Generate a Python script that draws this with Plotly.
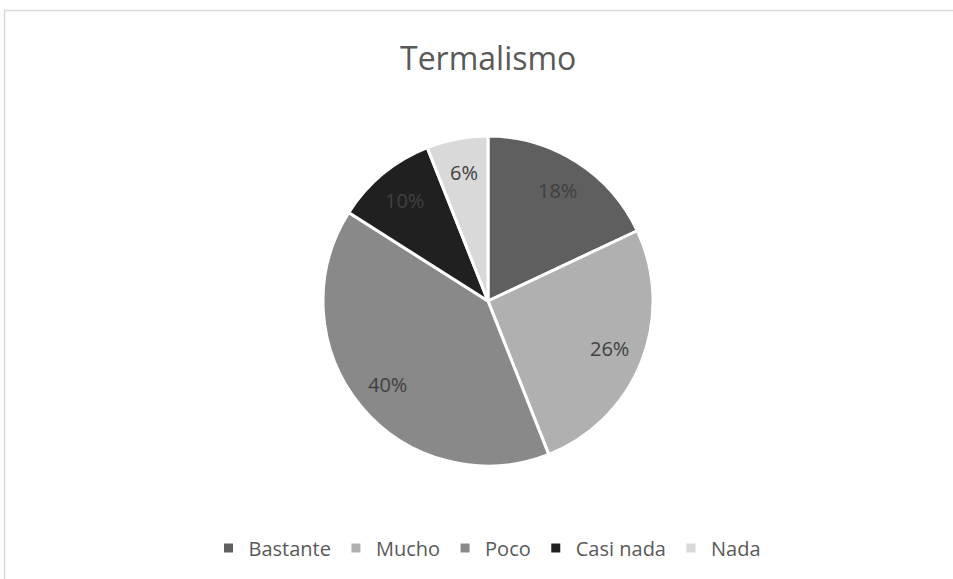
import math
import plotly.graph_objects as go

categories = ["Bastante", "Mucho", "Poco", "Casi nada", "Nada"]
values = [18, 26, 40, 10, 6]
colors = ["#5f5f5f", "#b0b0b0", "#898989", "#202020", "#d9d9d9"]

W, H = 953, 579
CX, CY, R = 488, 301, 165  # pie centre / radius in pixels
LABEL_R = 0.79

fig = go.Figure(go.Pie(
    labels=categories,
    values=values,
    sort=False,
    direction="clockwise",
    rotation=0,
    marker=dict(colors=colors, line=dict(color="white", width=3)),
    textinfo="none",
    hoverinfo="label+percent",
    domain=dict(x=[(CX - R) / W, (CX + R) / W], y=[(H - CY - R) / H, (H - CY + R) / H]),
))

# percentage labels placed along each slice's bisector
total = sum(values)
annotations = []
cum = 0
for v in values:
    mid = (cum + v / 2) / total
    ang = math.radians(90 - 360 * mid)
    px = CX + LABEL_R * R * math.cos(ang)
    py = CY - LABEL_R * R * math.sin(ang)
    annotations.append(dict(
        text=f"{round(100 * v / total)}%", x=px / W, y=1 - py / H,
        xref="paper", yref="paper", xanchor="center", yanchor="middle",
        showarrow=False,
        font=dict(family="Open Sans, Noto Sans, sans-serif", size=20, color="#404040"),
    ))
    cum += v

annotations.append(dict(
    text="Termalismo", x=488 / W, y=1 - 57 / H, xref="paper", yref="paper",
    xanchor="center", yanchor="middle", showarrow=False,
    font=dict(family="Open Sans, Noto Sans, sans-serif", size=32, color="#595959"),
))

fig.update_layout(
    width=W, height=H,
    margin=dict(l=0, r=0, t=0, b=0),
    paper_bgcolor="white",
    plot_bgcolor="white",
    showlegend=True,
    legend=dict(
        orientation="h",
        x=0.5 + 11 / W, xanchor="center",
        y=1 - 548 / H, yanchor="middle",
        font=dict(family="Open Sans, Noto Sans, sans-serif", size=20, color="#595959"),
        itemwidth=30,
        traceorder="normal",
    ),
    annotations=annotations,
    shapes=[dict(
        type="rect", xref="paper", yref="paper",
        x0=4.5 / W, x1=1.01, y0=-0.01, y1=1 - 10.5 / H,
        line=dict(color="#d9d9d9", width=1.5), fillcolor="rgba(0,0,0,0)",
        layer="below",
    )],
)

fig.write_html("out.html", config={"displayModeBar": False},
               post_script="document.body.style.margin='0';")
